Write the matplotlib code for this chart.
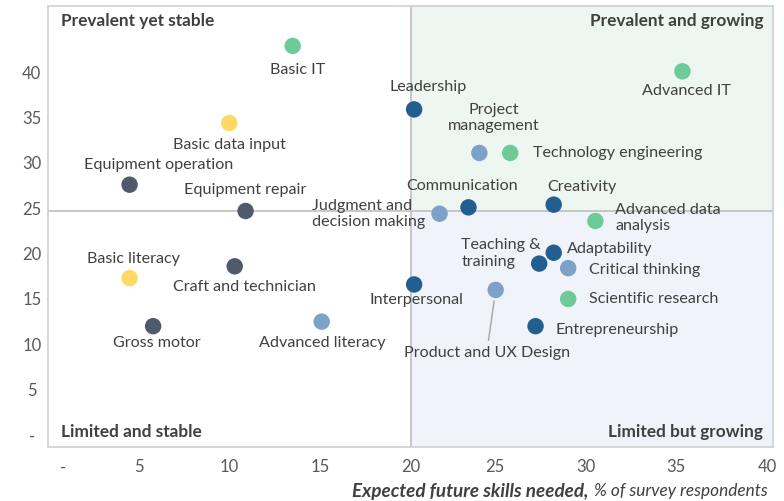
import numpy as np
import matplotlib
matplotlib.use("Agg")
from matplotlib import pyplot as plt
from matplotlib import transforms

plt.rcParams['font.family'] = ['Lato', 'DejaVu Sans']

# skill data: x = expected future need, y = current prevalence
skills = ['Basic IT', 'Leadership', 'Basic data input', 'Advanced IT',
          'Project\nmanagement', 'Technology engineering', 'Equipment operation',
          'Equipment repair', 'Judgment and\ndecision making', 'Communication',
          'Creativity', 'Advanced data\nanalysis', 'Adaptability', 'Teaching &\ntraining',
          'Critical thinking', 'Interpersonal', 'Product and UX Design',
          'Scientific research', 'Entrepreneurship', 'Basic literacy',
          'Craft and technician', 'Gross motor', 'Advanced literacy']
future_need = [13.5, 20.2, 10.0, 35.0, 23.8, 25.5, 4.5, 10.9, 21.6, 23.2, 27.9, 30.2,
               27.9, 27.1, 28.7, 20.2, 24.7, 28.7, 26.9, 4.5, 10.3, 5.8, 15.1]
prevalence = [42.9, 35.9, 34.4, 40.1, 31.1, 31.1, 27.6, 24.7, 24.4, 25.1, 25.4, 23.6,
              20.1, 18.9, 18.4, 16.6, 16.0, 15.0, 12.0, 17.3, 18.6, 12.0, 12.5]
group = ['tech', 'social', 'basic', 'tech', 'cog', 'tech', 'phys', 'phys', 'cog', 'social',
         'social', 'tech', 'social', 'social', 'cog', 'social', 'cog', 'tech', 'social',
         'basic', 'phys', 'phys', 'cog']

x_split = 20
y_split = 24.7
xticks = [0, 5, 10, 15, 20, 25, 30, 35, 40]
yticks = [0, 5, 10, 15, 20, 25, 30, 35, 40]

colors = {'tech': '#6CCB97', 'social': '#235E91', 'basic': '#FFD966',
          'phys': '#505A6C', 'cog': '#7EA1C9'}

# label offsets in pixels (dx, dy, ha)
offsets = {
    'Basic IT': (5, -24, 'center'),
    'Leadership': (14, 22, 'center'),
    'Basic data input': (0, -22, 'center'),
    'Advanced IT': (4, -20, 'center'),
    'Project\nmanagement': (14, 35, 'center'),
    'Technology engineering': (23, 0, 'left'),
    'Equipment operation': (29, 20, 'center'),
    'Equipment repair': (0, 21, 'center'),
    'Judgment and\ndecision making': (-128, 0, 'left'),
    'Communication': (-6, 21, 'center'),
    'Creativity': (28, 18, 'center'),
    'Advanced data\nanalysis': (20, 3, 'left'),
    'Adaptability': (13, 4, 'left'),
    'Teaching &\ntraining': (-78, 10, 'left'),
    'Critical thinking': (21, -2, 'left'),
    'Interpersonal': (2, -16, 'center'),
    'Product and UX Design': (-9, -63, 'center'),
    'Scientific research': (21, 0, 'left'),
    'Entrepreneurship': (20, -4, 'left'),
    'Basic literacy': (4, 19, 'center'),
    'Craft and technician': (10, -21, 'center'),
    'Gross motor': (4, -17, 'center'),
    'Advanced literacy': (1, -21, 'center'),
}

txt = '#404040'
fs = 11.6
fig = plt.figure(figsize=(7.84, 5.01), dpi=100)
ax = fig.add_axes([48/784, (501-447)/501, (773-48)/784, (447-6)/501])
ax.set_xlim(0, 40)
ax.set_ylim(-1.32, 47.3)

# quadrant shading
ax.axvspan(x_split, 40, ymin=0, ymax=1, color='#F0F4FA', zorder=0, lw=0)
top_frac = (y_split + 1.32) / (47.3 + 1.32)
ax.axvspan(x_split, 40, ymin=top_frac, ymax=1, color='#EDF6F0', zorder=0, lw=0)
ax.axvline(x_split, color='#BFBFBF', lw=1.2, zorder=1)
ax.axhline(y_split, color='#BFBFBF', lw=1.2, zorder=1)

for s in ax.spines.values():
    s.set_color('#D0D0D0')
    s.set_linewidth(1.2)

ax.scatter(future_need, prevalence, s=140, c=[colors[g] for g in group],
           zorder=3, linewidths=0)

for name, x, y in zip(skills, future_need, prevalence):
    dx, dy, ha = offsets[name]
    if name == 'Product and UX Design':
        ax.annotate(name, (x, y), xytext=(dx, dy), textcoords='offset pixels',
                    ha=ha, va='center', fontsize=fs, color=txt,
                    arrowprops=dict(arrowstyle='-', color='#A6A6A6', lw=1,
                                    shrinkA=2, shrinkB=8))
    else:
        ax.annotate(name, (x, y), xytext=(dx, dy), textcoords='offset pixels',
                    ha=ha, va='center', fontsize=fs, color=txt,
                    multialignment='center' if ha == 'center' else 'left',
                    linespacing=1.2)

# quadrant titles
qkw = dict(fontsize=12.4, fontweight='bold', color=txt, transform=ax.transAxes)
ax.text(13/725, 0.965, 'Prevalent yet stable', ha='left', va='center', **qkw)
ax.text(715/725, 0.965, 'Prevalent and growing', ha='right', va='center', **qkw)
ax.text(13/725, 0.033, 'Limited and stable', ha='left', va='center', **qkw)
ax.text(715/725, 0.033, 'Limited but growing', ha='right', va='center', **qkw)

ax.set_xticks(xticks)
ax.set_xticklabels(['-' if v == 0 else str(v) for v in xticks])
ax.set_yticks(yticks)
ax.set_yticklabels(['-' if v == 0 else str(v) for v in yticks])
ax.tick_params(length=0, labelsize=12, labelcolor='#595959')
ax.tick_params(axis='x', pad=9)
ax.tick_params(axis='y', pad=8)
for lab in ax.get_yticklabels():
    lab.set_horizontalalignment('center')
    lab.set_transform(lab.get_transform() + transforms.ScaledTranslation(-0.05, 0, fig.dpi_scale_trans))
xl = ax.get_xticklabels()
xl[0].set_transform(xl[0].get_transform() + transforms.ScaledTranslation(0.15, 0, fig.dpi_scale_trans))
for lab in xl[5:]:
    lab.set_transform(lab.get_transform() + transforms.ScaledTranslation(-0.06, 0, fig.dpi_scale_trans))

# axis title: bold italic part then italic part, right aligned
t2 = fig.text(768/784, 1 - 491/501, '% of survey respondents', ha='right', va='center',
              fontsize=12.4, style='italic', color=txt)
fig.canvas.draw()
bb = t2.get_window_extent()
fig.text((bb.x0 - 6) / fig.bbox.width, 1 - 491/501, 'Expected future skills needed,',
         ha='right', va='center', fontsize=13.6, style='italic', fontweight='bold', color=txt)

fig.savefig('out.png', dpi=100)
